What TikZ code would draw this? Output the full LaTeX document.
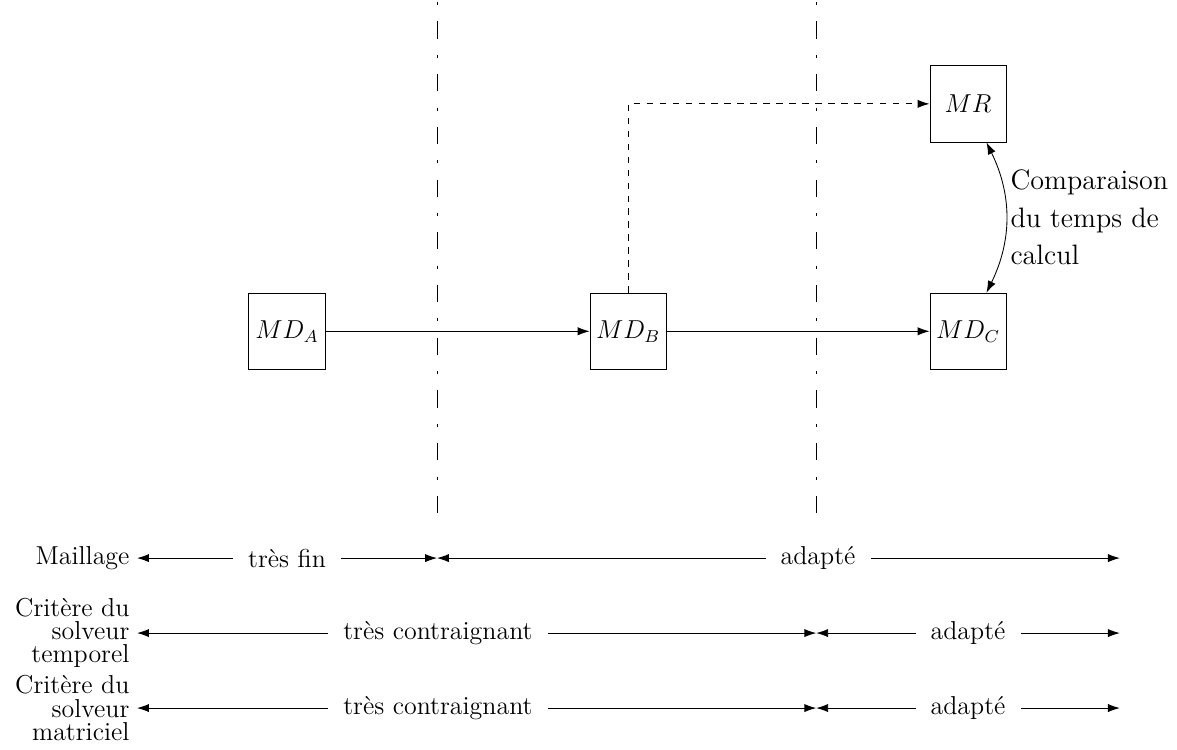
\documentclass[tikz,border=0pt]{standalone}
\usepackage{tikz}
\usetikzlibrary{arrows.meta,positioning,calc}

\begin{document}
\begin{tikzpicture}[
  blk/.style={rectangle, draw, minimum size=1.24cm, inner sep=1pt, font=\large},
  arr/.style={-{Latex[length=5.5pt,width=3.8pt]}},
  darr/.style={{Latex[length=5.5pt,width=3.8pt]}-{Latex[length=5.5pt,width=3.8pt]}},
  divline/.style={dash pattern=on 8pt off 7.5pt on 1.4pt off 7.5pt, dash phase=14.5pt},
  crit/.style={align=right, font=\large, anchor=east},
  lbl/.style={fill=white, inner xsep=7pt, font=\large}
]
\useasboundingbox (0,0) rectangle (19.15,-12.19);

% Separations
\draw[divline] (7.11,0) -- (7.11,-8.46);
\draw[divline] (13.28,0) -- (13.28,-8.46);

% Models
\node[blk] (mda) at (4.67,-5.39) {$MD_A$};
\node[blk] (mdb) at (10.22,-5.39) {$MD_B$};
\node[blk] (mdc) at (15.75,-5.39) {$MD_C$};
\node[blk] (mr) at (15.75,-1.69) {$MR$};

\draw[arr] (mda) -- (mdb);
\draw[arr] (mdb) -- (mdc);
\draw[arr, dashed] (mdb.north) |- (mr.west);

% Comparison
\draw[darr] ([xshift=0.3cm]mr.south) to[bend left=26]
  node[midway, right, align=left, inner xsep=2pt, font=\fontsize{13}{17.4}\selectfont] {Comparaison\\du temps de\\calcul}
  ([xshift=0.3cm]mdc.north);

% Criteria
\node[crit] (mail) at (2.23,-9.08) {Maillage};
\node[crit] (temp) at (2.23,-10.30) {Crit\`ere du\\[-3.3pt]solveur\\[-3.3pt]temporel};
\node[crit] (matr) at (2.23,-11.52) {Crit\`ere du\\[-3.3pt]solveur\\[-3.3pt]matriciel};

\coordinate (m1) at (7.11,-9.08);
\coordinate (m2) at (18.22,-9.08);
\coordinate (t1) at (13.28,-10.30);
\coordinate (t2) at (18.22,-10.30);
\coordinate (s1) at (13.28,-11.52);
\coordinate (s2) at (18.22,-11.52);

\draw[darr] (mail) -- node[lbl] {tr\`es fin} (m1);
\draw[darr] (m1) -- node[lbl, pos=0.558] {adapt\'e} (m2);
\draw[darr] (temp) -- node[lbl, pos=0.443] {tr\`es contraignant} (t1);
\draw[darr] (t1) -- node[lbl] {adapt\'e} (t2);
\draw[darr] (matr) -- node[lbl, pos=0.443] {tr\`es contraignant} (s1);
\draw[darr] (s1) -- node[lbl] {adapt\'e} (s2);

\end{tikzpicture}
\end{document}
